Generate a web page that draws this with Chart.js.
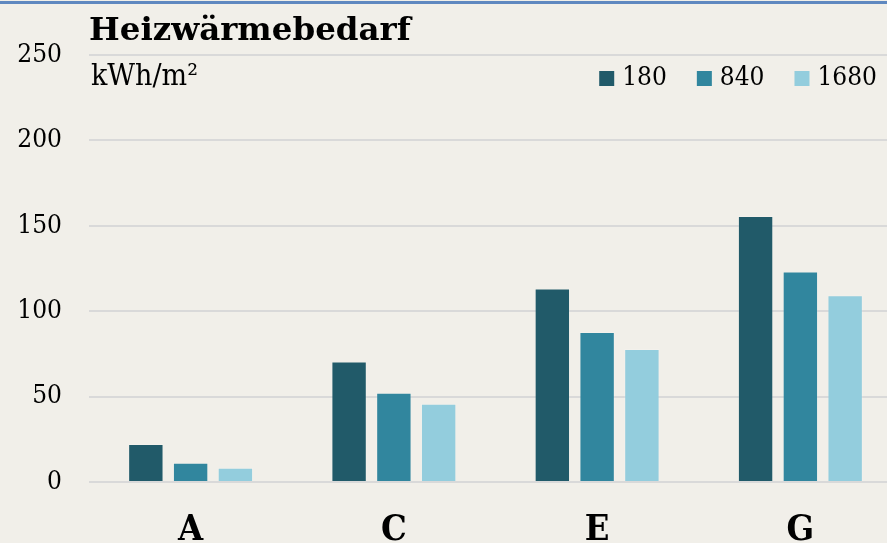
<!DOCTYPE html>
<html>
<head>
<meta charset="utf-8">
<script src="https://cdn.jsdelivr.net/npm/chart.js@4.4.0/dist/chart.umd.min.js"></script>
<style>
  html, body { margin: 0; padding: 0; background: #F1EFE9; overflow: hidden; width: 887px; height: 543px; }
  #wrap { position: absolute; left: 0; top: 0; width: 902px; height: 570px; }
  #topline { position: absolute; left: 0; top: 1px; width: 887px; height: 0; border-top: 3px solid #5F88C0; }
</style>
</head>
<body>
<div id="wrap"><canvas id="chart1"></canvas></div>
<div id="topline"></div>
<script>
// data
const categories = ["A", "C", "E", "G"];
const seriesNames = ["180", "840", "1680"];
const values180 = [22.2, 70.5, 113.3, 155.8];
const values840 = [11.3, 52.3, 87.8, 123.2];
const values1680 = [8.3, 45.8, 77.8, 109.3];
const yTicks = [0, 50, 100, 150, 200, 250];
const unitText = "kWh/m²";

const colors = ["#215A69", "#31869E", "#93CDDD"];
const serif = "'DejaVu Serif', serif";
const serifNarrow = "'DejaVu Serif Condensed', 'DejaVu Serif', serif";

// legend + unit label are drawn inside the plot area
const insideLabels = {
    id: "insideLabels",
    afterDraw(chart) {
        const ctx = chart.ctx;
        const area = chart.chartArea;
        ctx.save();
        ctx.fillStyle = "#000";
        ctx.font = "30px " + serifNarrow;
        ctx.textBaseline = "alphabetic";
        ctx.textAlign = "left";
        ctx.fillText(unitText, area.left + 2, 85);

        ctx.font = "26px " + serifNarrow;
        ctx.textBaseline = "middle";
        const box = 15, gap = 8, spacing = 30;
        const sets = chart.data.datasets;
        let x = area.right - 25;
        for (let i = sets.length - 1; i >= 0; i--) {
            const w = ctx.measureText(sets[i].label).width;
            x -= w;
            ctx.fillStyle = "#000";
            ctx.fillText(sets[i].label, x, 78);
            x -= gap + box;
            ctx.fillStyle = sets[i].backgroundColor;
            ctx.fillRect(x, 71, box, box);
            x -= spacing;
        }
        ctx.restore();
    }
};

const ctx1 = document.getElementById("chart1").getContext("2d");
const heatChart = new Chart(ctx1, {
    type: "bar",
    data: {
        labels: categories,
        datasets: [
            { label: seriesNames[0], data: values180, backgroundColor: colors[0] },
            { label: seriesNames[1], data: values840, backgroundColor: colors[1] },
            { label: seriesNames[2], data: values1680, backgroundColor: colors[2] }
        ]
    },
    options: {
        responsive: true,
        maintainAspectRatio: false,
        animation: false,
        layout: { padding: 0 },
        datasets: {
            bar: {
                categoryPercentage: 0.661,
                barPercentage: 0.79,
                borderWidth: 1,
                borderColor: "rgba(255,255,255,0.15)"
            }
        },
        scales: {
            x: {
                grid: { display: false },
                border: { display: false },
                ticks: {
                    color: "#000",
                    font: { family: serifNarrow, size: 36, weight: "bold" },
                    padding: 19
                },
                afterFit(scale) { scale.height = 88; }
            },
            y: {
                min: 0,
                max: 250,
                afterBuildTicks(scale) { scale.ticks = yTicks.map(v => ({ value: v })); },
                grid: { color: "#D9D9D9", lineWidth: 2, drawTicks: false },
                border: { display: false },
                ticks: {
                    color: "#000",
                    font: { family: serifNarrow, size: 26 },
                    padding: 27
                },
                afterFit(scale) { scale.width = 89; }
            }
        },
        plugins: {
            legend: { display: false },
            tooltip: { enabled: false },
            title: {
                display: true,
                text: "Heizwärmebedarf",
                align: "start",
                fullSize: false,
                color: "#000",
                font: { family: serif, size: 32.5, weight: "bold", lineHeight: 1.2 },
                padding: { top: 12.5, bottom: 3.5 }
            }
        }
    },
    plugins: [insideLabels]
});
</script>
</body>
</html>
